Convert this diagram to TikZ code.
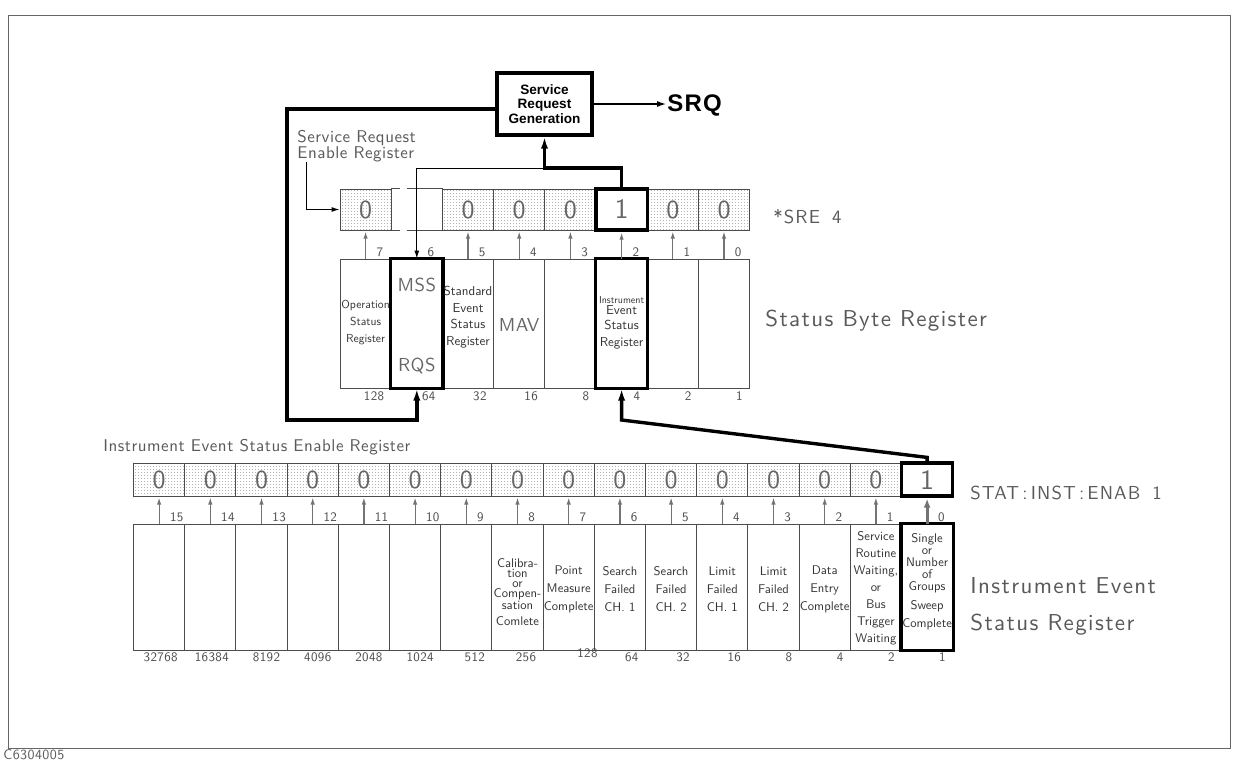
\documentclass[tikz,border=0pt]{standalone}
\usepackage{fontspec}
\newfontfamily\plotfont[LetterSpace=3]{lmsans10-regular.otf}
\newfontfamily\plotwide[LetterSpace=6]{lmsans10-regular.otf}
\newfontfamily\cellfont{lmsans10-regular.otf}
\newfontfamily\srgfont{Liberation Sans}
\newfontfamily\srqfont[LetterSpace=5]{Liberation Sans}
\usepackage{tikz}
\usetikzlibrary{arrows.meta,positioning,calc,patterns}
\pgfdeclarepatternformonly{finedots}{\pgfqpoint{-0.3pt}{-0.3pt}}{\pgfqpoint{0.3pt}{0.3pt}}{\pgfqpoint{1.5pt}{1.5pt}}{%
  \pgfpathrectangle{\pgfqpoint{-0.25pt}{-0.25pt}}{\pgfqpoint{0.5pt}{0.5pt}}\pgfusepath{fill}}
\tikzset{
  regline/.style={draw=black!70,line width=0.5pt},
  encell/.style={regline,pattern=finedots,pattern color=black!45,minimum width=25.6pt,inner sep=0pt,text=black!60,font=\plotfont\fontsize{13}{13}\selectfont},
  onebox/.style={draw=black,line width=1.6pt,minimum width=25.6pt,inner sep=0pt,text=black!60,font=\plotfont\fontsize{14}{14}\selectfont},
  sbcell/.style={regline,minimum width=25.6pt,minimum height=64.5pt,inner sep=0pt},
  isrcell/.style={regline,minimum width=25.6pt,minimum height=63pt,inner sep=0pt},
  thickbox/.style={draw=black,line width=1.7pt},
  celltext/.style={align=center,inner sep=0pt,text=black!80,font=\cellfont\fontsize{6.3}{9}\selectfont},
  msstext/.style={inner sep=0pt,text=black!60,font=\plotfont\fontsize{9.4}{9.4}\selectfont},
  bitnum/.style={inner sep=0pt,text=black!70,font=\plotfont\fontsize{6.5}{6.5}\selectfont},
  bitarrow/.style={draw=black!55,line width=0.6pt,-{Latex[length=3.5pt,width=2.2pt]},shorten >=0.5pt},
  thinarrow/.style={draw=black,line width=0.5pt,-{Latex[length=4pt,width=2.5pt]}},
  flowarrow/.style={draw=black,line width=1.7pt,-{Latex[length=6pt,width=3.6pt]}},
  srgbox/.style={draw=black,line width=1.6pt,minimum width=47.5pt,minimum height=31pt,align=center,inner sep=0pt,font=\srgfont\bfseries\fontsize{6.8}{7.2}\selectfont},
  srqlbl/.style={inner sep=0pt,font=\srqfont\bfseries\fontsize{12}{12}\selectfont},
  srqarrow/.style={draw=black,line width=1pt,-{Latex[length=5pt,width=3pt]}},
  midlbl/.style={inner sep=0pt,text=black!65,font=\plotfont\fontsize{8.5}{8}\selectfont},
  cmdlbl/.style={inner sep=0pt,text=black!65,font=\plotwide\fontsize{9.4}{9.4}\selectfont},
  biglbl/.style={inner sep=0pt,text=black!65,font=\plotwide\fontsize{11.5}{18.5}\selectfont},
  framebox/.style={draw=black!60,line width=0.5pt},
  codelbl/.style={inner sep=0pt,text=black!65,font=\plotfont\fontsize{7}{7}\selectfont}
}

\begin{document}
\begin{tikzpicture}[x=0.5pt,y=-0.5pt]
\useasboundingbox (0,0) rectangle (1238,761);
\draw[framebox] (8,15) rectangle (1230,748);
\node[codelbl,anchor=west] (code) at (3,755) {C6304005};

% service request generation
\node[srgbox] (srg) at (544.5,104) {Service\\Request\\Generation};
\node[srqlbl,anchor=west] (srq) at (667,105.5) {SRQ};
\draw[srqarrow] (srg.east) -- (srg.east -| srq.west);

% service request enable register
\foreach \bit in {7,5,4,3,1,0}
  \node[encell,minimum height=20.5pt] (sre\bit) at ({724-51.2*\bit},209.5) {0};
\node[minimum width=25.6pt,minimum height=20.5pt,inner sep=0pt] (sre6) at (416.8,209.5) {};
\node[onebox,minimum height=20.5pt] (sre2) at (621.6,209.5) {1};
\draw[regline] (sre6.north west) -- ++(8.8,0);
\draw[regline] ([xshift=7.9pt]sre6.north west) -- (sre6.north east);
\draw[regline] (sre6.south west) -- ++(8.8,0);
\draw[regline] ([xshift=7.9pt]sre6.south west) -- (sre6.south east);
\node[midlbl,anchor=north west,align=left] (srelbl) at (297,130) {Service Request\\Enable Register};
\draw[thinarrow] ([xshift=4.5pt]srelbl.south west) |- (sre7.west);
\node[cmdlbl,anchor=base west] (srecmd) at (773,223) {*SRE\hspace{6pt}4};

% status byte register
\foreach \bit in {7,...,0}
  \node[sbcell] (sb\bit) at ({724-51.2*\bit},323.5) {};
\draw[thickbox] (sb6.north west) rectangle (sb6.south east);
\draw[thickbox] (sb2.north west) rectangle (sb2.south east);
\node[celltext,font=\cellfont\fontsize{5.8}{8.5}\selectfont] (opst) at (365.6,323) {Operation\\Status\\Register};
\node[msstext] (mss) at (416.8,285) {MSS};
\node[msstext] (rqs) at (416.8,366) {RQS};
\node[celltext,font=\cellfont\fontsize{6.5}{8.3}\selectfont] (sest) at (468,317) {Standard\\Event\\Status\\Register};
\node[msstext] (mav) at (519.2,325) {MAV};
\node[celltext,font=\cellfont\fontsize{6.5}{7.5}\selectfont] (iest) at (621.6,322.5) {{\fontsize{5}{5}\selectfont Instrument}\\[-2pt]Event\\Status\\[1pt]Register};
\node[biglbl,anchor=base west] (sbrlbl) at (765,326) {Status Byte Register};

\foreach \bit in {7,5,4,3,2,1,0}
  \draw[bitarrow] (sb\bit.north) -- (sre\bit.south);
\foreach \bit/\wt in {7/128,6/64,5/32,4/16,3/8,2/4,1/2,0/1}{
  \node[bitnum,anchor=west] (sbn\bit) at ({734.5-51.2*\bit},252) {\bit};
  \node[bitnum,anchor=east] (sbw\bit) at ({743-51.2*\bit},396) {\wt};
}

% summary and feedback paths
\coordinate (sumy) at (0,168);
\coordinate (fbcorner) at (287,420);
\draw[flowarrow] (sre2.north) |- (srg.south |- sumy) -- (srg.south);
\draw[thinarrow] (srg.south |- sumy) -| (sb6.north);
\draw[flowarrow] ([yshift=-2.5pt]srg.west) -| (fbcorner) -| (sb6.south);

% instrument event status enable register
\node[midlbl,anchor=base west] (ieselbl) at (103,451) {Instrument Event Status Enable Register};
\foreach \bit in {15,...,1}
  \node[encell,minimum height=16.5pt] (ie\bit) at ({927.1-51.2*\bit},479.5) {0};
\node[onebox,minimum height=16.5pt] (ie0) at (927.1,479.5) {1};
\node[cmdlbl,anchor=base west] (enabcmd) at (970,499) {STAT\,:\,INST\,:\,ENAB\hspace{6pt}1};

% instrument event status register
\foreach \bit in {15,...,0}
  \node[isrcell] (isr\bit) at ({927.1-51.2*\bit},587) {};
\draw[thickbox] (isr0.north west) rectangle (isr0.south east);
\foreach \bit in {15,...,1}
  \draw[bitarrow] (isr\bit.north) -- (ie\bit.south);
\draw[bitarrow,line width=1.6pt,-{Latex[length=4.5pt,width=3.5pt]}] (isr0.north) -- (ie0.south);
\foreach \bit in {15,...,0}
  \node[bitnum,anchor=west] (ibn\bit) at ({937.6-51.2*\bit},517) {\bit};
\foreach \bit/\wt in {15/32768,14/16384,13/8192,12/4096,11/2048,10/1024,9/512,8/256,6/64,5/32,4/16,3/8,2/4,1/2,0/1}
  \node[bitnum,anchor=east] (ibw\bit) at ({946.1-51.2*\bit},657) {\wt};
\node[bitnum,anchor=east] (ibw7) at (598,653) {128};

\node[celltext,font=\cellfont\fontsize{6.3}{5}\selectfont] (calt) at (517.5,592) {Calibra-\\tion\\or\\Compen-\\sation\\[3pt]Comlete};
\node[celltext] (pmct) at (568.7,589) {Point\\Measure\\Complete};
\node[celltext] (sf1t) at (619.9,589) {Search\\Failed\\CH. 1};
\node[celltext] (sf2t) at (671.1,589) {Search\\Failed\\CH. 2};
\node[celltext] (lf1t) at (722.3,589) {Limit\\Failed\\CH. 1};
\node[celltext] (lf2t) at (773.5,589) {Limit\\Failed\\CH. 2};
\node[celltext] (dect) at (824.7,589) {Data\\Entry\\Complete};
\node[celltext,font=\cellfont\fontsize{6.3}{8.5}\selectfont] (srwt) at (875.9,588) {Service\\Routine\\Waiting,\\or\\Bus\\Trigger\\Waiting};
\node[celltext,font=\cellfont\fontsize{6.3}{6}\selectfont] (swct) at (927.1,582) {Single\\or\\Number\\of\\Groups\\[3.5pt]Sweep\\[3pt]Complete};
\node[biglbl,anchor=north west,align=left] (isrlbl) at (970,577) {Instrument Event\\Status Register};

% link to status byte bit 2
\coordinate (iebend) at (621.6,420);
\draw[flowarrow] (ie0.north) -- ++(0,-4) -- (iebend) -- (sb2.south);
\end{tikzpicture}
\end{document}
